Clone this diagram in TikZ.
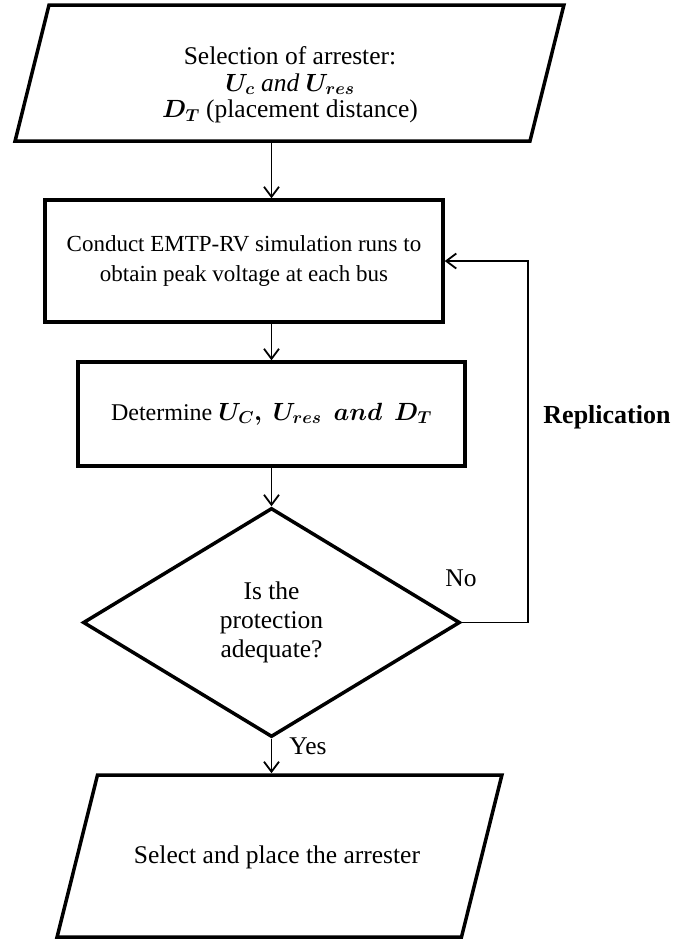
\documentclass[tikz,border=0pt]{standalone}
\usepackage{amsmath,amssymb}
\usepackage{fontspec}
\setmainfont{Liberation Serif}
\usepackage{tikz}
\usetikzlibrary{shapes.geometric,arrows.meta}

\begin{document}
\begin{tikzpicture}[x=1pt,y=-1pt,
		every node/.style={font=\fontsize{25.5}{29}\selectfont},
		blk/.style={draw,line width=3.5pt,align=center,inner sep=0pt},
		io/.style={blk,trapezium,trapezium left angle=76,trapezium right angle=104},
		test/.style={blk,diamond},
		flow/.style={line width=1.8pt,-{Straight Barb[length=10pt,width=15pt]}}]
		\useasboundingbox (0,0) rectangle (697,943);
		% blocks
		\node[io,text width=481pt,text height=68pt,text depth=68pt] (sel) at (289.5,73) {};
		\node[align=center,font=\fontsize{25.5}{26.5}\selectfont] (selt) at (290,85)
			{Selection of arrester:\\ $\boldsymbol{U_c}\ \mathit{and}\ \boldsymbol{U_{res}}$\\ $\boldsymbol{D_T}$ (placement distance)};
		\node[blk,minimum width=398pt,minimum height=122pt,font=\fontsize{23}{30}\selectfont] (run) at (244,261)
			{Conduct EMTP-RV simulation runs to\\ obtain peak voltage at each bus};
		\node[blk,minimum width=387pt,minimum height=104pt,font=\fontsize{24}{29}\selectfont] (det) at (271.5,414)
			{\raisebox{-3pt}{Determine $\boldsymbol{U_C,\ U_{res}\ \ and\ \ D_T}$}};
		\node[test,minimum width=377pt,minimum height=229pt] (chk) at (271.5,622.5)
			{Is the\\ protection\\ adequate?};
		\node[io,text width=364pt,text height=81pt,text depth=81pt] (out) at (279.5,856) {};
		\node (outt) at (277,857) {Select and place the arrester};
		% labels
		\node (no) at (461,578) {No};
		\node (yes) at (308,746) {Yes};
		\node[font=\fontsize{26}{29}\selectfont\bfseries] (repl) at (607,417) {Replication};
		\coordinate (back) at (528,417);
		% flow
		\draw[flow] (sel.south -| chk) -- (run.north -| chk);
		\draw[flow] (run.south -| chk) -- (det.north -| chk);
		\draw[flow] (det.south -| chk) -- (chk.north);
		\draw[flow] (chk.south) -- (out.north -| chk);
		\draw[flow] (chk.east) -| (back) |- (run.east);
\end{tikzpicture}
\end{document}
